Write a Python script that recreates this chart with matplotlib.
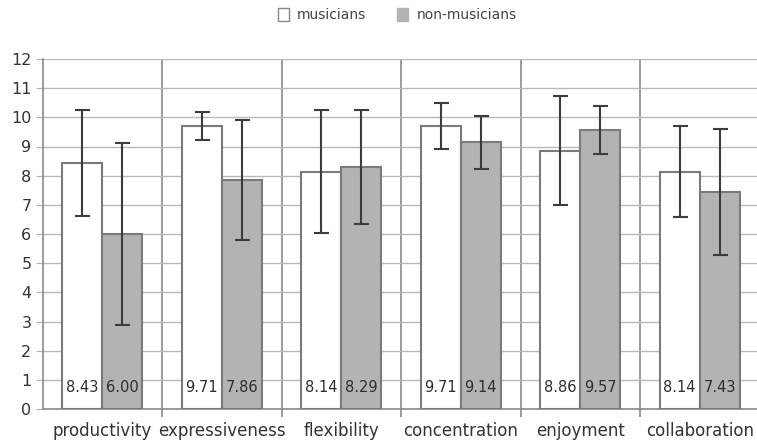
import numpy as np
import matplotlib.pyplot as plt
from matplotlib.patches import Patch

# ─── DATA ──────────────────────────────────────────────────────────────────
categories    = ["productivity", "expressiveness", "flexibility",
                 "concentration", "enjoyment", "collaboration"]
musicians     = [8.43, 9.71, 8.14, 9.71, 8.86, 8.14]
non_musicians = [6.00, 7.86, 8.29, 9.14, 9.57, 7.43]
musicians_sd  = [1.81, 0.48, 2.12, 0.78, 1.88, 1.57]
non_mus_sd    = [3.12, 2.05, 1.96, 0.90, 0.81, 2.16]
# ────────────────────────────────────────────────────────────────────────────

W, H = 757, 443
fig = plt.figure(figsize=(W / 100, H / 100), dpi=100)
# plot area runs slightly past the right edge of the figure
left, right = 42.5, 759.5
bottom, top = 409, 59
ax = fig.add_axes([left / W, 1 - bottom / H, (right - left) / W, (bottom - top) / H])

x = np.arange(len(categories))
bw = 0.335
edge = "#7a7a7a"
err_kw = dict(ecolor="#3c3c3c", elinewidth=1.5, capthick=1.5)

ax.bar(x - bw / 2, musicians, bw, color="white", edgecolor=edge, linewidth=1.5,
       yerr=musicians_sd, capsize=5.4, error_kw=err_kw, zorder=3)
ax.bar(x + bw / 2, non_musicians, bw, color="#b3b3b5", edgecolor=edge, linewidth=1.5,
       yerr=non_mus_sd, capsize=5.4, error_kw=err_kw, zorder=3)

# value labels near the foot of each bar
for i in range(len(categories)):
    ax.text(x[i] - bw / 2, 0.72, f"{musicians[i]:.2f}", ha="center", va="center",
            fontsize=10.5, color="#2e2e2e", zorder=4)
    ax.text(x[i] + bw / 2, 0.72, f"{non_musicians[i]:.2f}", ha="center", va="center",
            fontsize=10.5, color="#2e2e2e", zorder=4)

ax.set_xlim(-0.5, len(categories) - 0.5)
ax.set_ylim(0, 12)
ax.set_yticks(range(0, 13))
ax.set_xticks(x)
ax.set_xticklabels(categories, fontsize=12, color="#333333")
ax.set_xticks(np.arange(0.5, len(categories) - 0.5, 1), minor=True)

ax.tick_params(axis="y", labelsize=11.5, labelcolor="#333333", length=5,
               color="#b0b0b0", pad=3)
ax.tick_params(axis="x", which="major", length=0, pad=9)
ax.tick_params(axis="x", which="minor", length=6, color="#8a8a8a", width=1.2)

ax.grid(axis="y", color="#b8b8b8", linewidth=1.0, zorder=0)
ax.grid(axis="x", which="minor", color="#8a8a8a", linewidth=1.2, zorder=0)
ax.set_axisbelow(True)

for side in ["top", "right"]:
    ax.spines[side].set_visible(False)
ax.spines["left"].set_color("#8a8a8a")
ax.spines["left"].set_linewidth(1.2)
ax.spines["bottom"].set_color("#8a8a8a")
ax.spines["bottom"].set_linewidth(1.2)

handles = [Patch(facecolor="white", edgecolor="#8a8a8a", linewidth=1.0, label="musicians"),
           Patch(facecolor="#b3b3b5", edgecolor="#b3b3b5", linewidth=1.0, label="non-musicians")]
leg = fig.legend(handles=handles, loc="center", bbox_to_anchor=(397 / W, 1 - 15 / H),
                 ncol=2, frameon=False, fontsize=10, handlelength=0.8, handleheight=1.1,
                 handletextpad=0.6, columnspacing=2.2)
for t in leg.get_texts():
    t.set_color("#444444")

fig.savefig("out.png", dpi=100)
